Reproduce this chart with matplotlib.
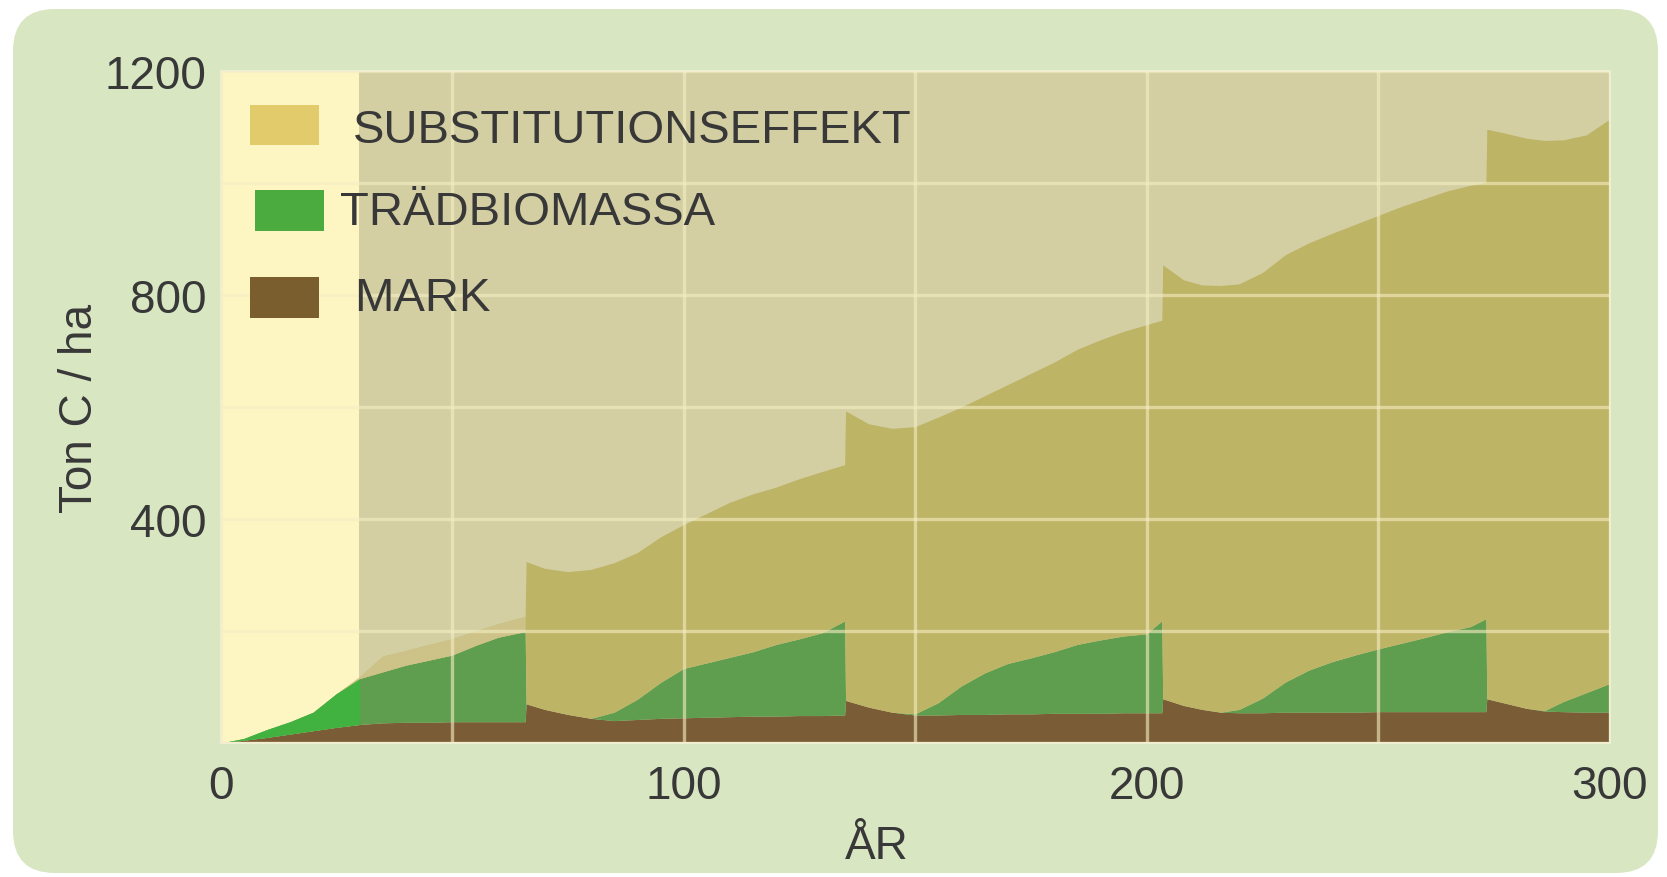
import numpy as np
import matplotlib.pyplot as plt
from matplotlib.patches import FancyBboxPatch, Rectangle
from matplotlib.transforms import IdentityTransform

plt.rcParams['font.family'] = ['Liberation Sans', 'DejaVu Sans']

# year axis, duplicated points mark the harvests (vertical steps)
years = [0, 5, 10, 15, 20, 25, 30, 35, 40, 45, 50, 55, 60, 65.8, 66, 70, 75, 80, 85,
         90, 95, 100, 105, 110, 115, 120, 125, 130, 134.8, 135, 140, 145, 150, 155,
         160, 165, 170, 175, 180, 185, 190, 195, 200, 203.3, 203.5, 208, 212, 216,
         220, 225, 230, 235, 240, 245, 250, 255, 260, 265, 270, 273.3, 273.5, 278,
         282, 286, 290, 295, 300]

# stacked layers, ton C / ha
mark = [0, 5, 10, 16, 22, 28, 33, 36, 37, 37, 38, 38, 38, 38, 70, 60, 51, 44, 40,
        42, 44, 45, 46, 47, 48, 48, 49, 49, 50, 76, 64, 55, 50, 50,
        51, 51, 52, 52, 53, 53, 53, 54, 54, 54, 79, 67, 60, 55,
        54, 54, 55, 55, 55, 55, 56, 56, 56, 56, 56, 56, 79, 70,
        62, 57, 56, 55, 55]
tree = [0, 3, 14, 22, 33, 60, 82, 91, 102, 111, 119, 136, 151, 161, 0, 0, 0, 0, 15,
        36, 64, 88, 97, 106, 115, 128, 137, 148, 168, 0, 0, 0, 2, 22,
        51, 74, 90, 100, 110, 123, 131, 137, 141, 164, 0, 0, 0, 0,
        6, 26, 54, 75, 90, 102, 112, 122, 132, 143, 152, 166, 0, 0,
        0, 1, 18, 35, 51]
subst = [0, 0, 0, 0, 0, 0, 3, 28, 26, 28, 29, 26, 24, 27, 254, 252, 255, 266, 267,
         262, 260, 257, 267, 277, 282, 281, 286, 288, 279, 517, 506, 507, 513, 510,
         498, 495, 498, 508, 517, 527, 536, 544, 552, 537, 775, 760, 758, 762,
         760, 760, 763, 763, 765, 769, 774, 780, 784, 787, 788, 779, 1017, 1018,
         1018, 1018, 1003, 996, 1008]

labels = ['SUBSTITUTIONSEFFEKT', 'TRÄDBIOMASSA', 'MARK']
legend_colors = ['#e1cb6b', '#4bab3f', '#7b5e2e']

BROWN = '#7a5d36'
GREEN = '#5f9d4f'
GREEN_EARLY = '#41b23f'
OLIVE = '#bdb466'
OLIVE_EARLY = '#cdc389'
TXT = '#383838'

fig = plt.figure(figsize=(16.67, 8.78), dpi=100, facecolor='white')
fig.patches.append(FancyBboxPatch((13, 4), 1645, 864, boxstyle='round,pad=0,rounding_size=42',
                                  transform=IdentityTransform(), facecolor='#d9e6c2',
                                  edgecolor='none', zorder=-10))

ax = fig.add_axes([220.5 / 1667, 134 / 878, 1389 / 1667, 672 / 878])
ax.set_facecolor('#d3cfa3')

x = np.array(years)
stack = np.vstack([mark, tree, subst]).cumsum(axis=0)

ax.axvspan(0, 30, color='#fdf5c2', zorder=0.5, lw=0)
ax.fill_between(x, 0, stack[0], color=BROWN, lw=0, zorder=1)
ax.fill_between(x, stack[0], stack[1], color=GREEN, lw=0, zorder=1)
ax.fill_between(x, stack[0], stack[1], where=x <= 30, color=GREEN_EARLY, lw=0, zorder=1.1)
ax.fill_between(x, stack[1], stack[2], color=OLIVE, lw=0, zorder=1)
ax.fill_between(x, stack[1], stack[2], where=x <= 65.8, color=OLIVE_EARLY, lw=0, zorder=1.1)

ax.set_xlim(0, 300)
ax.set_ylim(0, 1200)
ax.set_xticks(np.arange(0, 301, 50))
ax.set_xticklabels(['0', '', '100', '', '200', '', '300'])
ax.set_yticks(np.arange(0, 1201, 200))
ax.set_yticklabels(['', '', '400', '', '800', '', '1200'])
ax.set_axisbelow(False)
ax.grid(True, color='#f6eec4', alpha=0.6, lw=2.4)
ax.tick_params(length=0, labelsize=33, colors=TXT)
ax.tick_params(axis='x', pad=15)
ax.tick_params(axis='y', pad=10)
for s in ax.spines.values():
    s.set_color('#eeeed6')
    s.set_linewidth(1.5)

ax.set_ylabel('Ton C / ha', fontsize=33, color=TXT, va='center')
ax.yaxis.set_label_coords(-0.101, 0.5)
ax.set_xlabel('ÅR', fontsize=33, color=TXT, va='baseline')
ax.xaxis.set_label_coords(0.4726, -0.171)

# legend drawn by hand, as in the original
boxes = [(0.0212, 0.890, 0.0497, 0.059), (0.0248, 0.762, 0.0497, 0.061), (0.0212, 0.632, 0.0497, 0.061)]
text_pos = [(0.0954, 0.912), (0.0860, 0.790), (0.0961, 0.662)]
for (bx, by, bw, bh), (tx, ty), lab, col in zip(boxes, text_pos, labels, legend_colors):
    ax.add_patch(Rectangle((bx, by), bw, bh, transform=ax.transAxes, facecolor=col,
                           edgecolor='none', zorder=5))
    ax.text(tx, ty, lab, transform=ax.transAxes, fontsize=34, color=TXT,
            va='center', ha='left', zorder=6)

fig.savefig('out.png', dpi=100, facecolor='white')
